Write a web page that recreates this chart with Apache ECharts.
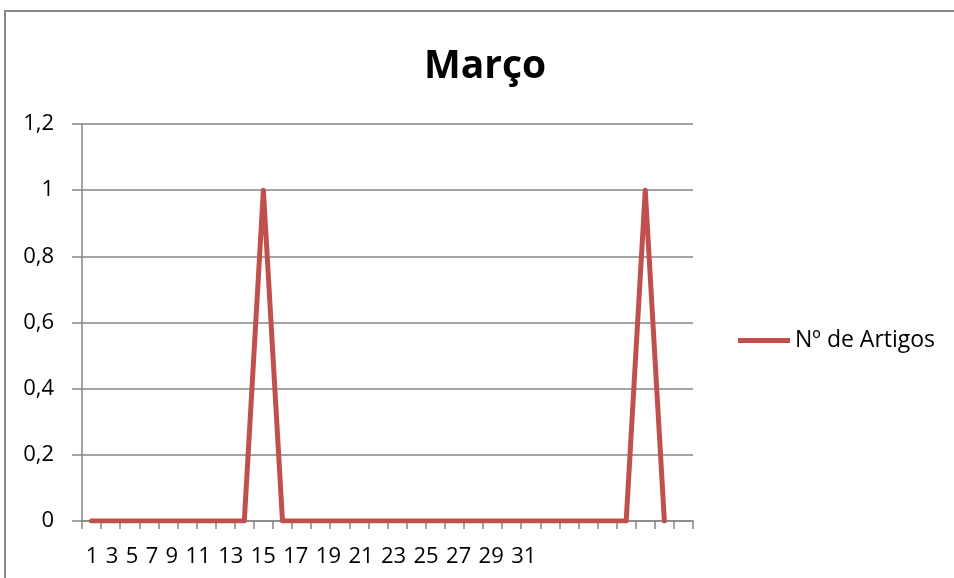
<!DOCTYPE html>
<html>
<head>
<meta charset="utf-8">
<script src="https://cdn.jsdelivr.net/npm/echarts@6/dist/echarts.min.js"></script>
<style>
html,body{margin:0;padding:0;background:#fff;}
#c{width:954px;height:578px;}
</style>
</head>
<body>
<div id="c"></div>
<script>
// Data
var chartTitle = 'Março';
var seriesName = 'Nº de Artigos';
var categories = ['1','2','3','4','5','6','7','8','9','10','11','12','13','14','15','16',
                  '17','18','19','20','21','22','23','24','25','26','27','28','29','30','31',''];
var artigos = [0,0,0,0,0,0,0,0,0,1,0,0,0,0,0,0,0,0,0,0,0,0,0,0,0,0,0,0,0,1,0];
var tickLabels = ['1','3','5','7','9','11','13','15','17','19','21','23','25','27','29','31'];
var yTicks = [0, 0.2, 0.4, 0.6, 0.8, 1, 1.2];

var FONT = 'Open Sans';
var chart = echarts.init(document.getElementById('c'));
var richText = tickLabels.map(function(l){ return '{t|' + l + '}'; }).join('');

chart.setOption({
  backgroundColor: '#ffffff',
  animation: false,
  title: {
    text: chartTitle,
    left: 485,
    top: 47,
    padding: 0,
    textAlign: 'center',
    textStyle: { fontFamily: FONT, fontSize: 39, fontWeight: 'bold', color: '#000' }
  },
  legend: {
    orient: 'vertical',
    left: 738,
    top: 329,
    padding: 0,
    icon: 'rect',
    itemWidth: 52,
    itemHeight: 5,
    textStyle: { fontFamily: FONT, fontSize: 23, color: '#000' },
    data: [seriesName]
  },
  grid: { left: 82, top: 124, width: 611, height: 397, containLabel: false },
  xAxis: {
    type: 'category',
    data: categories,
    boundaryGap: true,
    axisLine: { show: true, lineStyle: { color: '#868686', width: 1.5 } },
    axisTick: { show: true, length: 8, alignWithLabel: false, interval: 0, lineStyle: { color: '#868686', width: 1.5 } },
    axisLabel: { show: false },
    splitLine: { show: false }
  },
  yAxis: {
    type: 'value',
    min: yTicks[0],
    max: yTicks[yTicks.length - 1],
    interval: 0.2,
    axisLine: { show: true, lineStyle: { color: '#868686', width: 1.5 } },
    axisTick: { show: true, length: 10, lineStyle: { color: '#868686', width: 1.5 } },
    axisLabel: {
      margin: 28,
      fontFamily: FONT, fontSize: 22, color: '#000',
      formatter: function(v){ return String(Math.round(v*10)/10).replace('.', ','); }
    },
    splitLine: { show: true, lineStyle: { color: '#868686', width: 1.5 } }
  },
  series: [{
    name: seriesName,
    type: 'line',
    data: artigos,
    symbol: 'none',
    showSymbol: false,
    lineStyle: { color: '#C0504D', width: 5, cap: 'round', join: 'round' },
    itemStyle: { color: '#C0504D' }
  }],
  graphic: [
    {
      type: 'rect',
      shape: { x: 5, y: 11, width: 1000, height: 700 },
      style: { fill: 'none', stroke: '#898989', lineWidth: 2 },
      silent: true,
      z: 100
    },
    {
      type: 'text',
      x: 82,
      y: 557,
      style: {
        text: richText,
        verticalAlign: 'middle',
        align: 'left',
        rich: { t: { fontFamily: FONT, fontSize: 22, fill: '#000', padding: [0, 3.7] } }
      },
      silent: true
    }
  ]
});
</script>
</body>
</html>
